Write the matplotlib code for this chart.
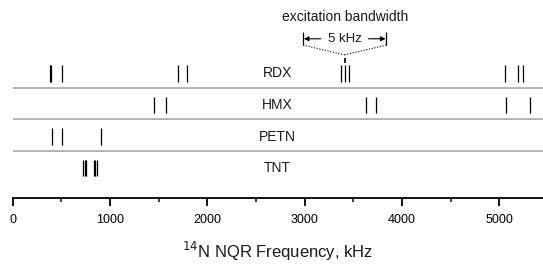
import matplotlib
matplotlib.use("Agg")
import matplotlib.pyplot as plt
from matplotlib.ticker import MultipleLocator

plt.rcParams['font.family'] = ['Liberation Sans', 'DejaVu Sans']

# NQR line frequencies (kHz) per explosive
explosives = ["RDX", "HMX", "PETN", "TNT"]
rdx_lines = [380, 395, 509, 1699, 1789, 3369, 3412, 3459, 5061, 5194, 5240]
hmx_lines = [1452, 1573, 3627, 3735, 5068, 5312]
petn_lines = [401, 502, 903]
tnt_lines = [726, 742, 758, 835, 850, 866]
all_lines = [rdx_lines, hmx_lines, petn_lines, tnt_lines]

x_ticks = [0, 1000, 2000, 3000, 4000, 5000]
bandwidth_center = 3412  # the RDX line the annotation points at

fig = plt.figure(figsize=(5.43, 2.64), dpi=100)
ax = fig.add_axes([0.0234, 0.25, 0.9766, 0.75])

half = 0.26
for i, (name, freqs) in enumerate(zip(explosives, all_lines)):
    ax.vlines(freqs, i - half, i + half, color="black", lw=0.9)
    ax.text(2720, i, name, ha="center", va="center", fontsize=10, color="#1a1a1a")
    if i < len(explosives) - 1:
        ax.axhline(i + 0.45, color="#b4b4b4", lw=1.4, xmin=0.0)

# excitation bandwidth annotation
c = bandwidth_center
ax.text(c, -1.80, "excitation bandwidth", ha="center", va="center", fontsize=10, color="#1a1a1a")
ax.text(c, -1.10, "5 kHz", ha="center", va="center", fontsize=9.5, color="#1a1a1a")
for side in (-1, 1):
    ax.vlines(c + side * 427, -1.33, -0.90, color="black", lw=0.9)
    ax.annotate("", xy=(c + side * 420, -1.10), xytext=(c + side * 245, -1.10),
                arrowprops=dict(arrowstyle="-|>", color="black", lw=0.8,
                                mutation_scale=7, shrinkA=0, shrinkB=0))
    ax.plot([c + side * 427, c], [-0.90, -0.59], ls=(0, (1, 1.5)), color="black", lw=0.8)
ax.vlines(c, -0.48, -0.32, color="black", lw=1.2)

ax.set_xlim(0, 5450)
ax.set_ylim(3.95, -2.33)
for s in ("left", "right", "top"):
    ax.spines[s].set_visible(False)
ax.spines["bottom"].set_linewidth(1.3)
ax.set_yticks([])
ax.set_xticks(x_ticks)
ax.xaxis.set_minor_locator(MultipleLocator(500))
ax.tick_params(axis="x", which="major", length=6, width=1.3, labelsize=9, pad=5.5, colors="black")
ax.tick_params(axis="x", which="minor", length=3, width=1.1)
ax.set_xlabel("$^{14}$N NQR Frequency, kHz", fontsize=12, labelpad=10, color="#1a1a1a")
ax.patch.set_visible(False)

fig.savefig("out.png", dpi=100)
